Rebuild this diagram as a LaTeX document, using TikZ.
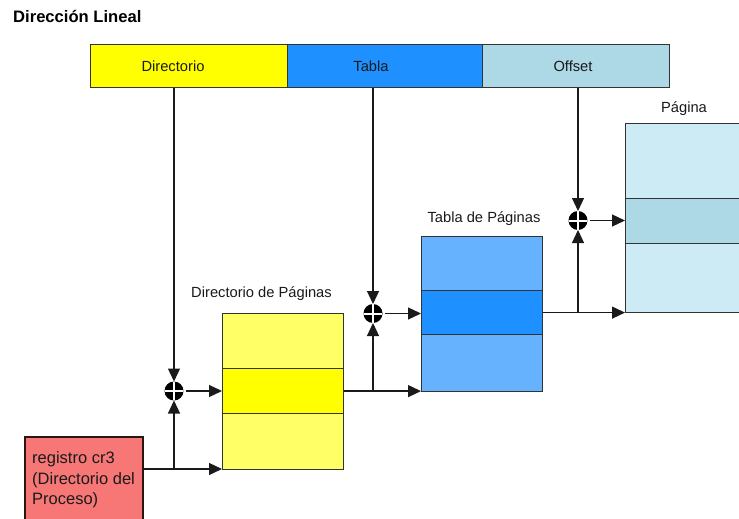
\documentclass[tikz,border=0pt]{standalone}
\usepackage{fontspec}
\setmainfont{Liberation Sans}
\usetikzlibrary{arrows.meta}
\definecolor{dirfield}{HTML}{FFFF00}
\definecolor{dirlight}{HTML}{FFFF66}
\definecolor{tabfield}{HTML}{1E90FF}
\definecolor{tablight}{HTML}{66B2FF}
\definecolor{offfield}{HTML}{ADD8E6}
\definecolor{paglight}{HTML}{CDEBF5}
\definecolor{cregfill}{HTML}{F77777}
\definecolor{cregedge}{HTML}{2A1414}
\definecolor{edge}{HTML}{333333}
\definecolor{ink}{HTML}{1A1A1A}
\begin{document}
\begin{tikzpicture}[x=1pt,y=-1pt,
  field/.style={draw=edge, line width=1.2pt, minimum height=43pt, inner sep=0pt,
    anchor=north west},
  cell/.style={draw=edge, line width=1.2pt, inner sep=0pt, anchor=north west},
  lbl/.style={inner sep=0pt, anchor=base, text=ink, font=\fontsize{14.7}{17}\selectfont},
  wire/.style={line width=1.25pt, draw=ink},
  arr/.style={wire, -{Triangle[length=13pt,width=12pt]}},
  adder/.style={circle, fill=black, minimum size=19pt, inner sep=0pt, outer sep=0pt,
    path picture={\draw[white, line width=2pt]
      (path picture bounding box.north) -- (path picture bounding box.south)
      (path picture bounding box.west) -- (path picture bounding box.east);}}]
\useasboundingbox (0,0) rectangle (739,519);
\clip (0,0) rectangle (739,519);

% title
\node[anchor=base west, inner sep=0pt, font=\bfseries\fontsize{16.6}{19}\selectfont] (title)
  at (13,23) {Dirección Lineal};

% fields of the linear address
\node[field, fill=dirfield, minimum width=197pt] (fdir) at (90,44) {};
\node[field, fill=tabfield, minimum width=195pt] (ftab) at (287,44) {};
\node[field, fill=offfield, minimum width=187pt] (foff) at (482,44) {};
\node[lbl] (tdir) at (173,72) {Directorio};
\node[lbl] (ttab) at (371,71) {Tabla};
\node[lbl] (toff) at (573,71) {Offset};

% page directory
\node[lbl] (lbldp) at (261.5,297) {Directorio de Páginas};
\node[cell, fill=dirlight, minimum width=121pt, minimum height=55pt] (dptop) at (222,313) {};
\node[cell, fill=dirfield, minimum width=121pt, minimum height=45pt] (dpmid) at (222,368) {};
\node[cell, fill=dirlight, minimum width=121pt, minimum height=56pt] (dpbot) at (222,413) {};

% page table
\node[lbl] (lbltp) at (484,222) {Tabla de Páginas};
\node[cell, fill=tablight, minimum width=121pt, minimum height=54pt] (tptop) at (421,236) {};
\node[cell, fill=tabfield, minimum width=121pt, minimum height=44pt] (tpmid) at (421,290) {};
\node[cell, fill=tablight, minimum width=121pt, minimum height=57pt] (tpbot) at (421,334) {};

% page
\node[lbl] (lblpg) at (684,112) {Página};
\node[cell, fill=paglight, minimum width=140pt, minimum height=75pt] (pgtop) at (625,123) {};
\node[cell, fill=offfield, minimum width=140pt, minimum height=45pt] (pgmid) at (625,198) {};
\node[cell, fill=paglight, minimum width=140pt, minimum height=69pt] (pgbot) at (625,243) {};

% cr3 register
\node[cell, draw=cregedge, line width=2.4pt, fill=cregfill, minimum width=118pt,
  minimum height=95pt] (cr3) at (24,436) {};
\node[anchor=north west, inner sep=0pt, align=left, text=ink,
  font=\fontsize{16.5}{20.5}\selectfont] (cr3txt) at (32,451.5)
  {registro cr3\\(Directorio del\\Proceso)};

% adders
\node[adder] (a1) at (174,391) {};
\node[adder] (a2) at (373,313.5) {};
\node[adder] (a3) at (578,220.5) {};

% cr3 -> page directory
\coordinate (crout) at (143,469);
\draw[arr] (crout) -- (crout -| dpbot.west);
\draw[arr] (crout -| a1) -- (a1.south);
\draw[arr] (fdir.south -| a1) -- (a1.north);
\draw[arr] ([xshift=2pt]a1.east) -- (a1.east -| dpmid.west);

% page directory -> page table
\draw[arr] (dpmid.east) -- (dpmid.east -| tpbot.west);
\draw[arr] (dpmid.east -| a2) -- (a2.south);
\draw[arr] (ftab.south -| a2) -- (a2.north);
\draw[arr] ([xshift=2pt]a2.east) -- (a2.east -| tpmid.west);

% page table -> page
\draw[arr] (tpmid.east) -- (tpmid.east -| pgbot.west);
\draw[arr] (tpmid.east -| a3) -- (a3.south);
\draw[arr] (foff.south -| a3) -- (a3.north);
\draw[arr] ([xshift=2pt]a3.east) -- (a3.east -| pgmid.west);
\end{tikzpicture}
\end{document}
